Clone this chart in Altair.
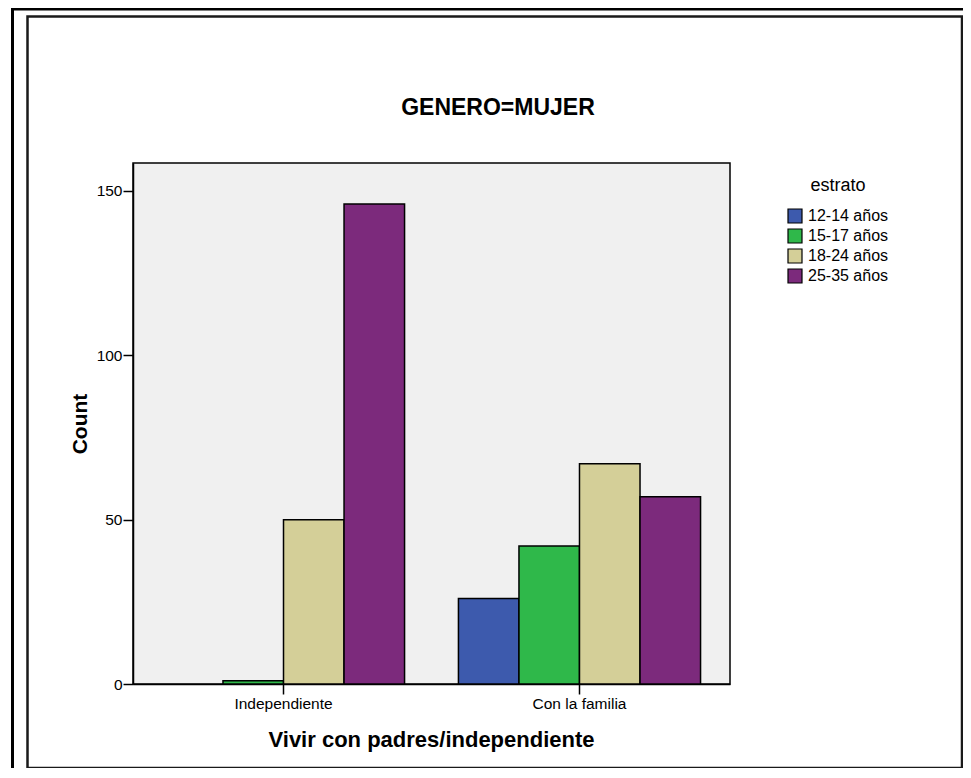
import altair as alt
import pandas as pd

# ---- data ----
vivir = ["Independiente", "Con la familia"]
estratos = ["12-14 años", "15-17 años", "18-24 años", "25-35 años"]
independiente_counts = [0, 1, 50, 146]
familia_counts = [26, 42, 67, 57]
colores = ["#3d5aad", "#2fb84a", "#d4cf98", "#7c2a7c"]
y_ticks = [0, 50, 100, 150]
chart_title = "GENERO=MUJER"

rows = []
for grupo, counts in zip(vivir, [independiente_counts, familia_counts]):
    for est, c in zip(estratos, counts):
        if c > 0:
            rows.append({"vivir": grupo, "estrato": est, "count": c})
df = pd.DataFrame(rows)

FONT = "Liberation Sans"
W, H = 597, 521

bars = alt.Chart(df).mark_bar(stroke="black", strokeWidth=1.5).encode(
    x=alt.X(
        "vivir:N",
        sort=vivir,
        scale=alt.Scale(paddingInner=0.182, paddingOuter=0.0995),
        axis=alt.Axis(
            title="Vivir con padres/independiente",
            labelAngle=0,
            labelFontSize=15.5,
            labelPadding=2,
            tickSize=10,
            tickColor="black",
            tickWidth=1.5,
            domainColor="black",
            domainWidth=1.5,
            labelColor="black",
            titleFontSize=22,
            titleFontWeight="bold",
            titleColor="black",
            titleX=298,
            titleY=62.5,
            titleAlign="center",
            titleBaseline="alphabetic",
        ),
    ),
    xOffset=alt.XOffset(
        "estrato:N",
        sort=estratos,
        scale=alt.Scale(domain=estratos, paddingInner=0, paddingOuter=0),
    ),
    y=alt.Y(
        "count:Q",
        scale=alt.Scale(domain=[0, 158.5], nice=False),
        axis=alt.Axis(
            title="Count",
            values=y_ticks,
            grid=False,
            labelFontSize=15.5,
            labelPadding=1,
            tickSize=10,
            tickColor="black",
            tickWidth=1.5,
            domainColor="black",
            domainWidth=1.5,
            labelColor="black",
            titleFontSize=21,
            titleFontWeight="bold",
            titleColor="black",
            titleX=-47,
            titleY=260.5,
            titleAngle=270,
            titleAlign="center",
            titleBaseline="alphabetic",
        ),
    ),
    color=alt.Color(
        "estrato:N",
        scale=alt.Scale(domain=estratos, range=colores),
        legend=alt.Legend(
            title="estrato",
            orient="none",
            legendX=654,
            legendY=14,
            symbolType="square",
            symbolSize=196,
            symbolStrokeColor="black",
            symbolStrokeWidth=1.2,
            symbolOpacity=1,
            labelFontSize=16,
            labelColor="black",
            labelOffset=5,
            titleFontSize=18,
            titleFontWeight="normal",
            titleColor="black",
            titleAnchor="middle",
            titlePadding=13,
            rowPadding=0,
            padding=0,
        ),
    ),
)

one = pd.DataFrame({"t": [chart_title]})

title_mark = alt.Chart(one).mark_text(
    font=FONT, fontSize=23, fontWeight="bold", color="black",
    align="center", baseline="alphabetic",
).encode(x=alt.value(365), y=alt.value(-48.3), text="t:N")

inner_frame = alt.Chart(one).mark_rect(
    fillOpacity=0, stroke="#1a1a1a", strokeWidth=2.5
).encode(
    x=alt.value(-105.5), x2=alt.value(829),
    y=alt.value(-146.5), y2=alt.value(605),
)

outer_top = alt.Chart(one).mark_rule(color="black", strokeWidth=3).encode(
    x=alt.value(-122), x2=alt.value(850), y=alt.value(-154)
)
outer_left = alt.Chart(one).mark_rule(color="black", strokeWidth=3).encode(
    x=alt.value(-120.5), y=alt.value(-155), y2=alt.value(640)
)

chart = alt.layer(inner_frame, outer_top, outer_left, bars, title_mark).properties(
    width=W,
    height=H,
    autosize=alt.AutoSizeParams(type="none"),
    padding={"left": 125, "top": 155, "right": 233, "bottom": 84},
    background="white",
).configure_view(
    fill="#f0f0f0", stroke="black", strokeWidth=1.5
).configure_axis(
    labelFont=FONT, titleFont=FONT
).configure_legend(
    labelFont=FONT, titleFont=FONT
)

chart.save("out.html", embed_options={"renderer": "svg", "actions": False})
